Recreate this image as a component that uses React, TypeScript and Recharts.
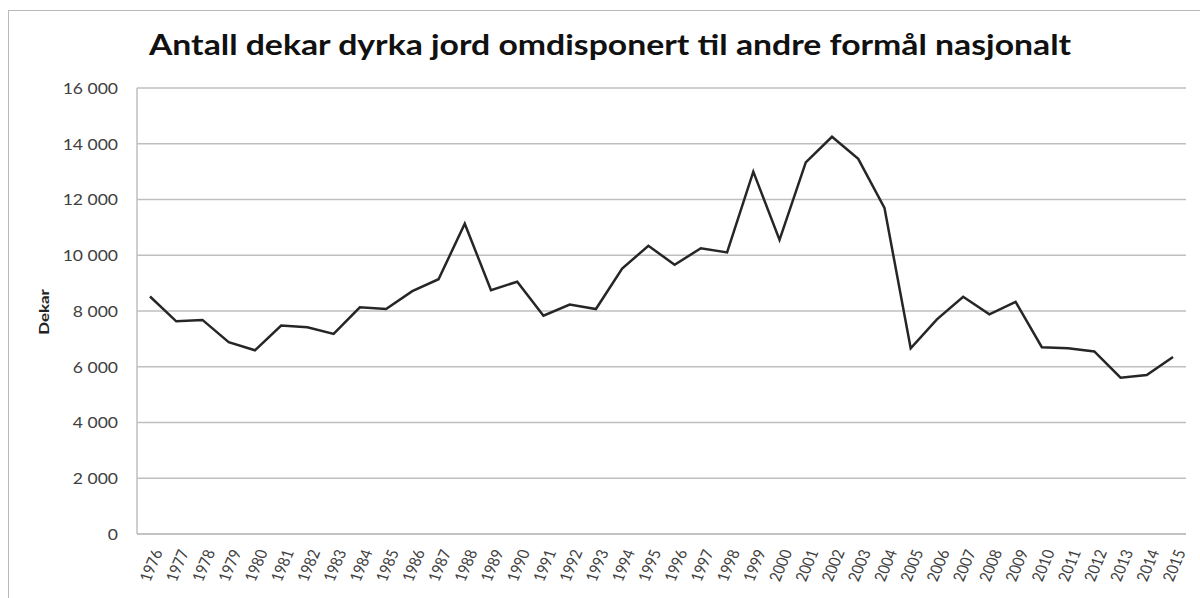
import React from "react";
import {
    LineChart,
    Line,
    XAxis,
    YAxis,
    CartesianGrid,
} from "recharts";

const YEARS = [
    "1976", "1977", "1978", "1979", "1980", "1981", "1982", "1983", "1984", "1985",
    "1986", "1987", "1988", "1989", "1990", "1991", "1992", "1993", "1994", "1995",
    "1996", "1997", "1998", "1999", "2000", "2001", "2002", "2003", "2004", "2005",
    "2006", "2007", "2008", "2009", "2010", "2011", "2012", "2013", "2014", "2015",
];

const DEKAR = [
    8520, 7630, 7680, 6880, 6590, 7480, 7420, 7180, 8130, 8070,
    8710, 9140, 11130, 8750, 9050, 7830, 8230, 8070, 9520, 10340,
    9660, 10250, 10100, 13000, 10550, 13330, 14250, 13460, 11700, 6660,
    7700, 8510, 7880, 8330, 6700, 6660, 6550, 5610, 5700, 6350,
];

const Y_TICKS = [0, 2000, 4000, 6000, 8000, 10000, 12000, 14000, 16000];

const TITLE = "Antall dekar dyrka jord omdisponert til andre formål nasjonalt";
const Y_LABEL = "Dekar";

const data = YEARS.map((year, i) => ({ year, value: DEKAR[i] }));

const FONT = "Lato, 'Open Sans', sans-serif";
// originalen er litt strukket i bredden
const STRETCH = 1.17;

// norsk tusenskille: "16 000"
const formatNumber = (v: number) =>
    String(v).replace(/\B(?=(\d{3})+(?!\d))/g, " ");

const YearTick = (props: any) => {
    const { x, y, payload } = props;
    const tx = x + 7;
    const ty = y + 8;
    return (
        <text
            transform={`translate(${tx} ${ty}) scale(${STRETCH} 1) rotate(-70)`}
            textAnchor="end"
            dominantBaseline="central"
            fontSize={14}
            fontFamily={FONT}
            fill="#404040"
        >
            {payload.value}
        </text>
    );
};

const ValueTick = (props: any) => {
    const { x, y, payload } = props;
    return (
        <text
            transform={`translate(${x} ${y}) scale(${STRETCH} 1)`}
            textAnchor="end"
            dominantBaseline="central"
            fontSize={15}
            fontFamily={FONT}
            fill="#404040"
        >
            {formatNumber(payload.value)}
        </text>
    );
};

export default function App() {
    return (
        <div
            style={{
                position: "absolute",
                left: 0,
                top: 0,
                width: 1200,
                height: 598,
                background: "#fff",
                overflow: "hidden",
            }}
        >
            <div
                style={{
                    position: "absolute",
                    left: 8,
                    top: 10,
                    width: 1300,
                    height: 700,
                    border: "1px solid #b8b8b8",
                }}
            />
            <div
                style={{
                    position: "absolute",
                    left: 0,
                    top: 27,
                    width: 1220,
                    textAlign: "center",
                    fontFamily: FONT,
                    fontWeight: 700,
                    fontSize: 28,
                    color: "#111",
                    whiteSpace: "nowrap",
                    transform: `scaleX(${STRETCH * 1.03})`,
                }}
            >
                {TITLE}
            </div>
            <div
                style={{
                    position: "absolute",
                    left: 44,
                    top: 312,
                    transform: "translate(-50%, -50%) rotate(-90deg) scaleX(1.3)",
                    fontFamily: FONT,
                    fontWeight: 700,
                    fontSize: 13,
                    color: "#222",
                }}
            >
                {Y_LABEL}
            </div>
            <div style={{ position: "absolute", left: 0, top: 0 }}>
                <LineChart
                    width={1200}
                    height={598}
                    data={data}
                    margin={{ top: 88, right: 14, bottom: 0, left: 0 }}
                >
                    <CartesianGrid
                        vertical={false}
                        stroke="#bfbfbf"
                        strokeWidth={1.5}
                    />
                    <XAxis
                        dataKey="year"
                        interval={0}
                        height={64}
                        padding={{ left: 13, right: 13 }}
                        axisLine={{ stroke: "#bfbfbf", strokeWidth: 1.5 }}
                        tickLine={false}
                        tick={<YearTick />}
                    />
                    <YAxis
                        width={137}
                        domain={[0, 16000]}
                        ticks={Y_TICKS}
                        interval={0}
                        axisLine={{ stroke: "#bfbfbf", strokeWidth: 1.5 }}
                        tickLine={false}
                        tickSize={6}
                        tickMargin={13}
                        tick={<ValueTick />}
                    />
                    <Line
                        type="linear"
                        dataKey="value"
                        stroke="#262626"
                        strokeWidth={2.5}
                        dot={false}
                        isAnimationActive={false}
                    />
                </LineChart>
            </div>
        </div>
    );
}
